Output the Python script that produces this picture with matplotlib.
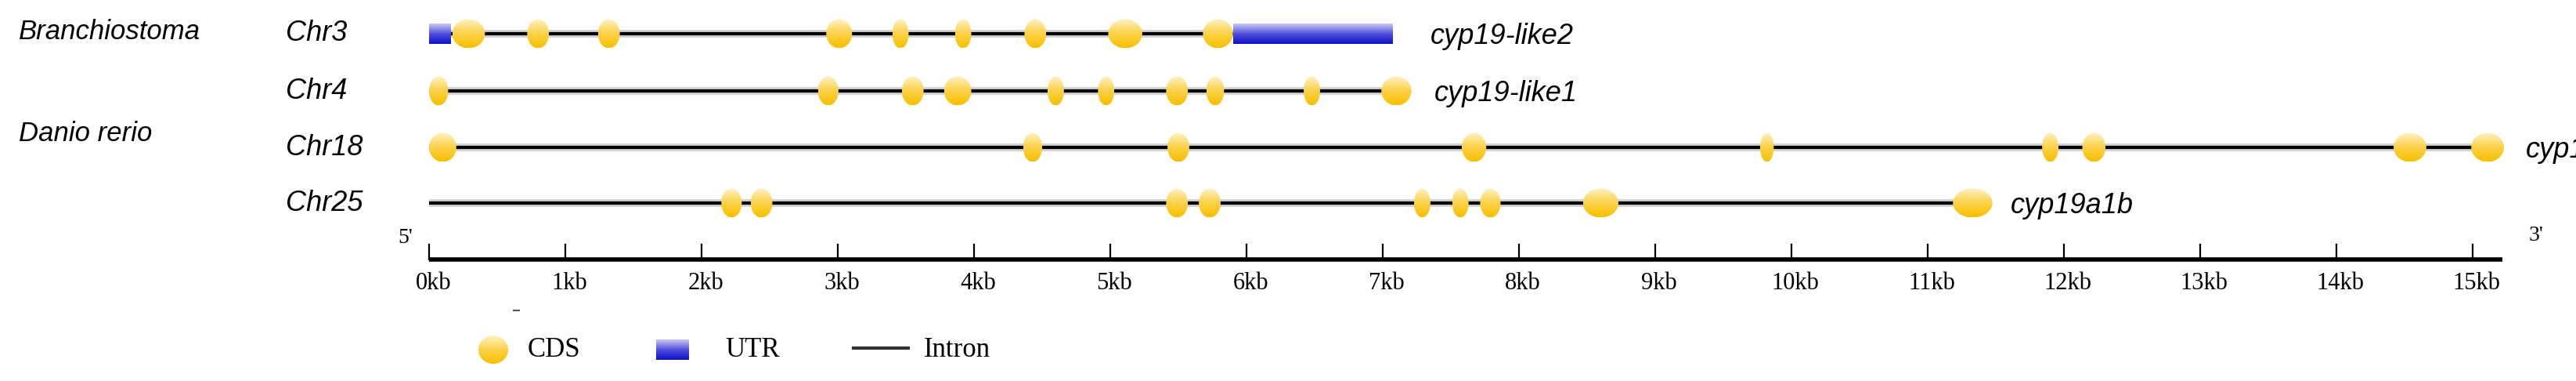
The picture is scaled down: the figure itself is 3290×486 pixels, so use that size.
import numpy as np
import matplotlib.pyplot as plt
from matplotlib.patches import Ellipse, Rectangle
from matplotlib.colors import LinearSegmentedColormap

# gene structures, positions in kb
genes = ['cyp19-like2', 'cyp19-like1', 'cyp19a1a', 'cyp19a1b']
chroms = ['Chr3', 'Chr4', 'Chr18', 'Chr25']
gene_end = [7.07, 7.10, 15.11, 11.33]
exon_pos = [
    [0.29, 0.80, 1.32, 3.01, 3.46, 3.92, 4.45, 5.11, 5.79],
    [0.07, 2.93, 3.55, 3.88, 4.60, 4.97, 5.49, 5.77, 6.48, 7.10],
    [0.10, 4.43, 5.50, 7.67, 9.82, 11.90, 12.22, 14.54, 15.11],
    [2.22, 2.44, 5.49, 5.73, 7.29, 7.57, 7.79, 8.60, 11.33],
]
exon_w = [
    [0.24, 0.16, 0.16, 0.19, 0.12, 0.12, 0.16, 0.25, 0.22],
    [0.14, 0.15, 0.16, 0.20, 0.12, 0.12, 0.16, 0.13, 0.12, 0.22],
    [0.20, 0.14, 0.16, 0.18, 0.10, 0.12, 0.17, 0.24, 0.24],
    [0.15, 0.16, 0.16, 0.16, 0.12, 0.12, 0.15, 0.26, 0.29],
]
utr = [[(0.0, 0.16), (5.90, 7.07)], [], [], []]
species = ['Branchiostoma', 'Danio rerio']
ticks = np.arange(0, 16)
tick_labels = [f'{t}kb' for t in ticks]

W, H = 3290, 486
px_per_kb = 174.0
x0 = 548.0
row_y = [43, 116, 188, 259]

fig = plt.figure(figsize=(W / 100, H / 100), dpi=100)
ax = fig.add_axes([0, 0, 1, 1])
ax.set_xlim(-x0 / px_per_kb, (W - x0) / px_per_kb)
ax.set_ylim(H, 0)
ax.axis('off')

sans = 'Liberation Sans'
serif = 'Liberation Serif'

grad = np.linspace(0, 1, 64).reshape(-1, 1)
cds_cmap = LinearSegmentedColormap.from_list('cds', ['#fff2c4', '#fbd24a', '#f8bf00'])
utr_cmap = LinearSegmentedColormap.from_list('utr', ['#c9c9f4', '#5050dd', '#1010c8'])

ex_h = 37
utr_h = 26

def grad_patch(patch, cmap, x1, x2, y1, y2):
    ax.add_patch(patch)
    im = ax.imshow(grad, cmap=cmap, extent=(x1, x2, y2, y1), aspect='auto',
                   interpolation='bicubic', zorder=4)
    im.set_clip_path(patch)

for i in range(4):
    y = row_y[i]
    ax.plot([0, gene_end[i]], [y, y], color='#d0d0d0', lw=7, zorder=1, solid_capstyle='butt')
    ax.plot([0, gene_end[i]], [y, y], color='black', lw=3, zorder=2, solid_capstyle='butt')
    for a, b in utr[i]:
        r = Rectangle((a, y - utr_h / 2), b - a, utr_h, facecolor='none', edgecolor='none', zorder=3)
        grad_patch(r, utr_cmap, a, b, y - utr_h / 2, y + utr_h / 2)
    for p, w in zip(exon_pos[i], exon_w[i]):
        e = Ellipse((p, y), w, ex_h, facecolor='none', edgecolor='none', zorder=3)
        grad_patch(e, cds_cmap, p - w / 2, p + w / 2, y - ex_h / 2, y + ex_h / 2)
    ax.text(-183 / px_per_kb, y, chroms[i], fontsize=26, style='italic', family=sans,
            ha='left', va='center')
    ax.text(gene_end[i] + 0.28, y + 3, genes[i], fontsize=26, style='italic', family=sans,
            ha='left', va='center')

ax.text(-524 / px_per_kb, 40, species[0], fontsize=25, style='italic', family=sans, ha='left', va='center')
ax.text(-524 / px_per_kb, 170, species[1], fontsize=25, style='italic', family=sans, ha='left', va='center')

# scale axis
axis_y = 331
ax.plot([0, 15.22], [axis_y, axis_y], color='black', lw=4, zorder=2, solid_capstyle='butt')
for t, lab in zip(ticks, tick_labels):
    ax.plot([t, t], [axis_y, axis_y - 19], color='black', lw=1.6)
    ax.text(t + 0.03, 361, lab, fontsize=22, family=serif, ha='center', va='center')
ax.text(-0.12, 303, "5'", fontsize=20, family=serif, ha='right', va='center')
ax.text(15.41, 300, "3'", fontsize=20, family=serif, ha='left', va='center')
ax.plot([0.62, 0.66], [396, 396], color='#555555', lw=1.5)

# legend
ly = 446
cx = (630 - x0) / px_per_kb
e = Ellipse((cx, ly), 0.22, 36, facecolor='none', edgecolor='none')
grad_patch(e, cds_cmap, cx - 0.11, cx + 0.11, ly - 18, ly + 18)
ax.text((674 - x0) / px_per_kb, ly, 'CDS', fontsize=25, family=serif, ha='left', va='center')
ux = (838 - x0) / px_per_kb
r = Rectangle((ux, ly - 13), 0.24, 26, facecolor='none', edgecolor='none')
grad_patch(r, utr_cmap, ux, ux + 0.24, ly - 13, ly + 13)
ax.text((926 - x0) / px_per_kb, ly, 'UTR', fontsize=25, family=serif, ha='left', va='center')
ax.plot([(1090 - x0) / px_per_kb, (1160 - x0) / px_per_kb], [ly - 2, ly - 2], color='#333333', lw=3)
ax.text((1180 - x0) / px_per_kb, ly, 'Intron', fontsize=25, family=serif, ha='left', va='center')

fig.savefig('out.png', dpi=100)
